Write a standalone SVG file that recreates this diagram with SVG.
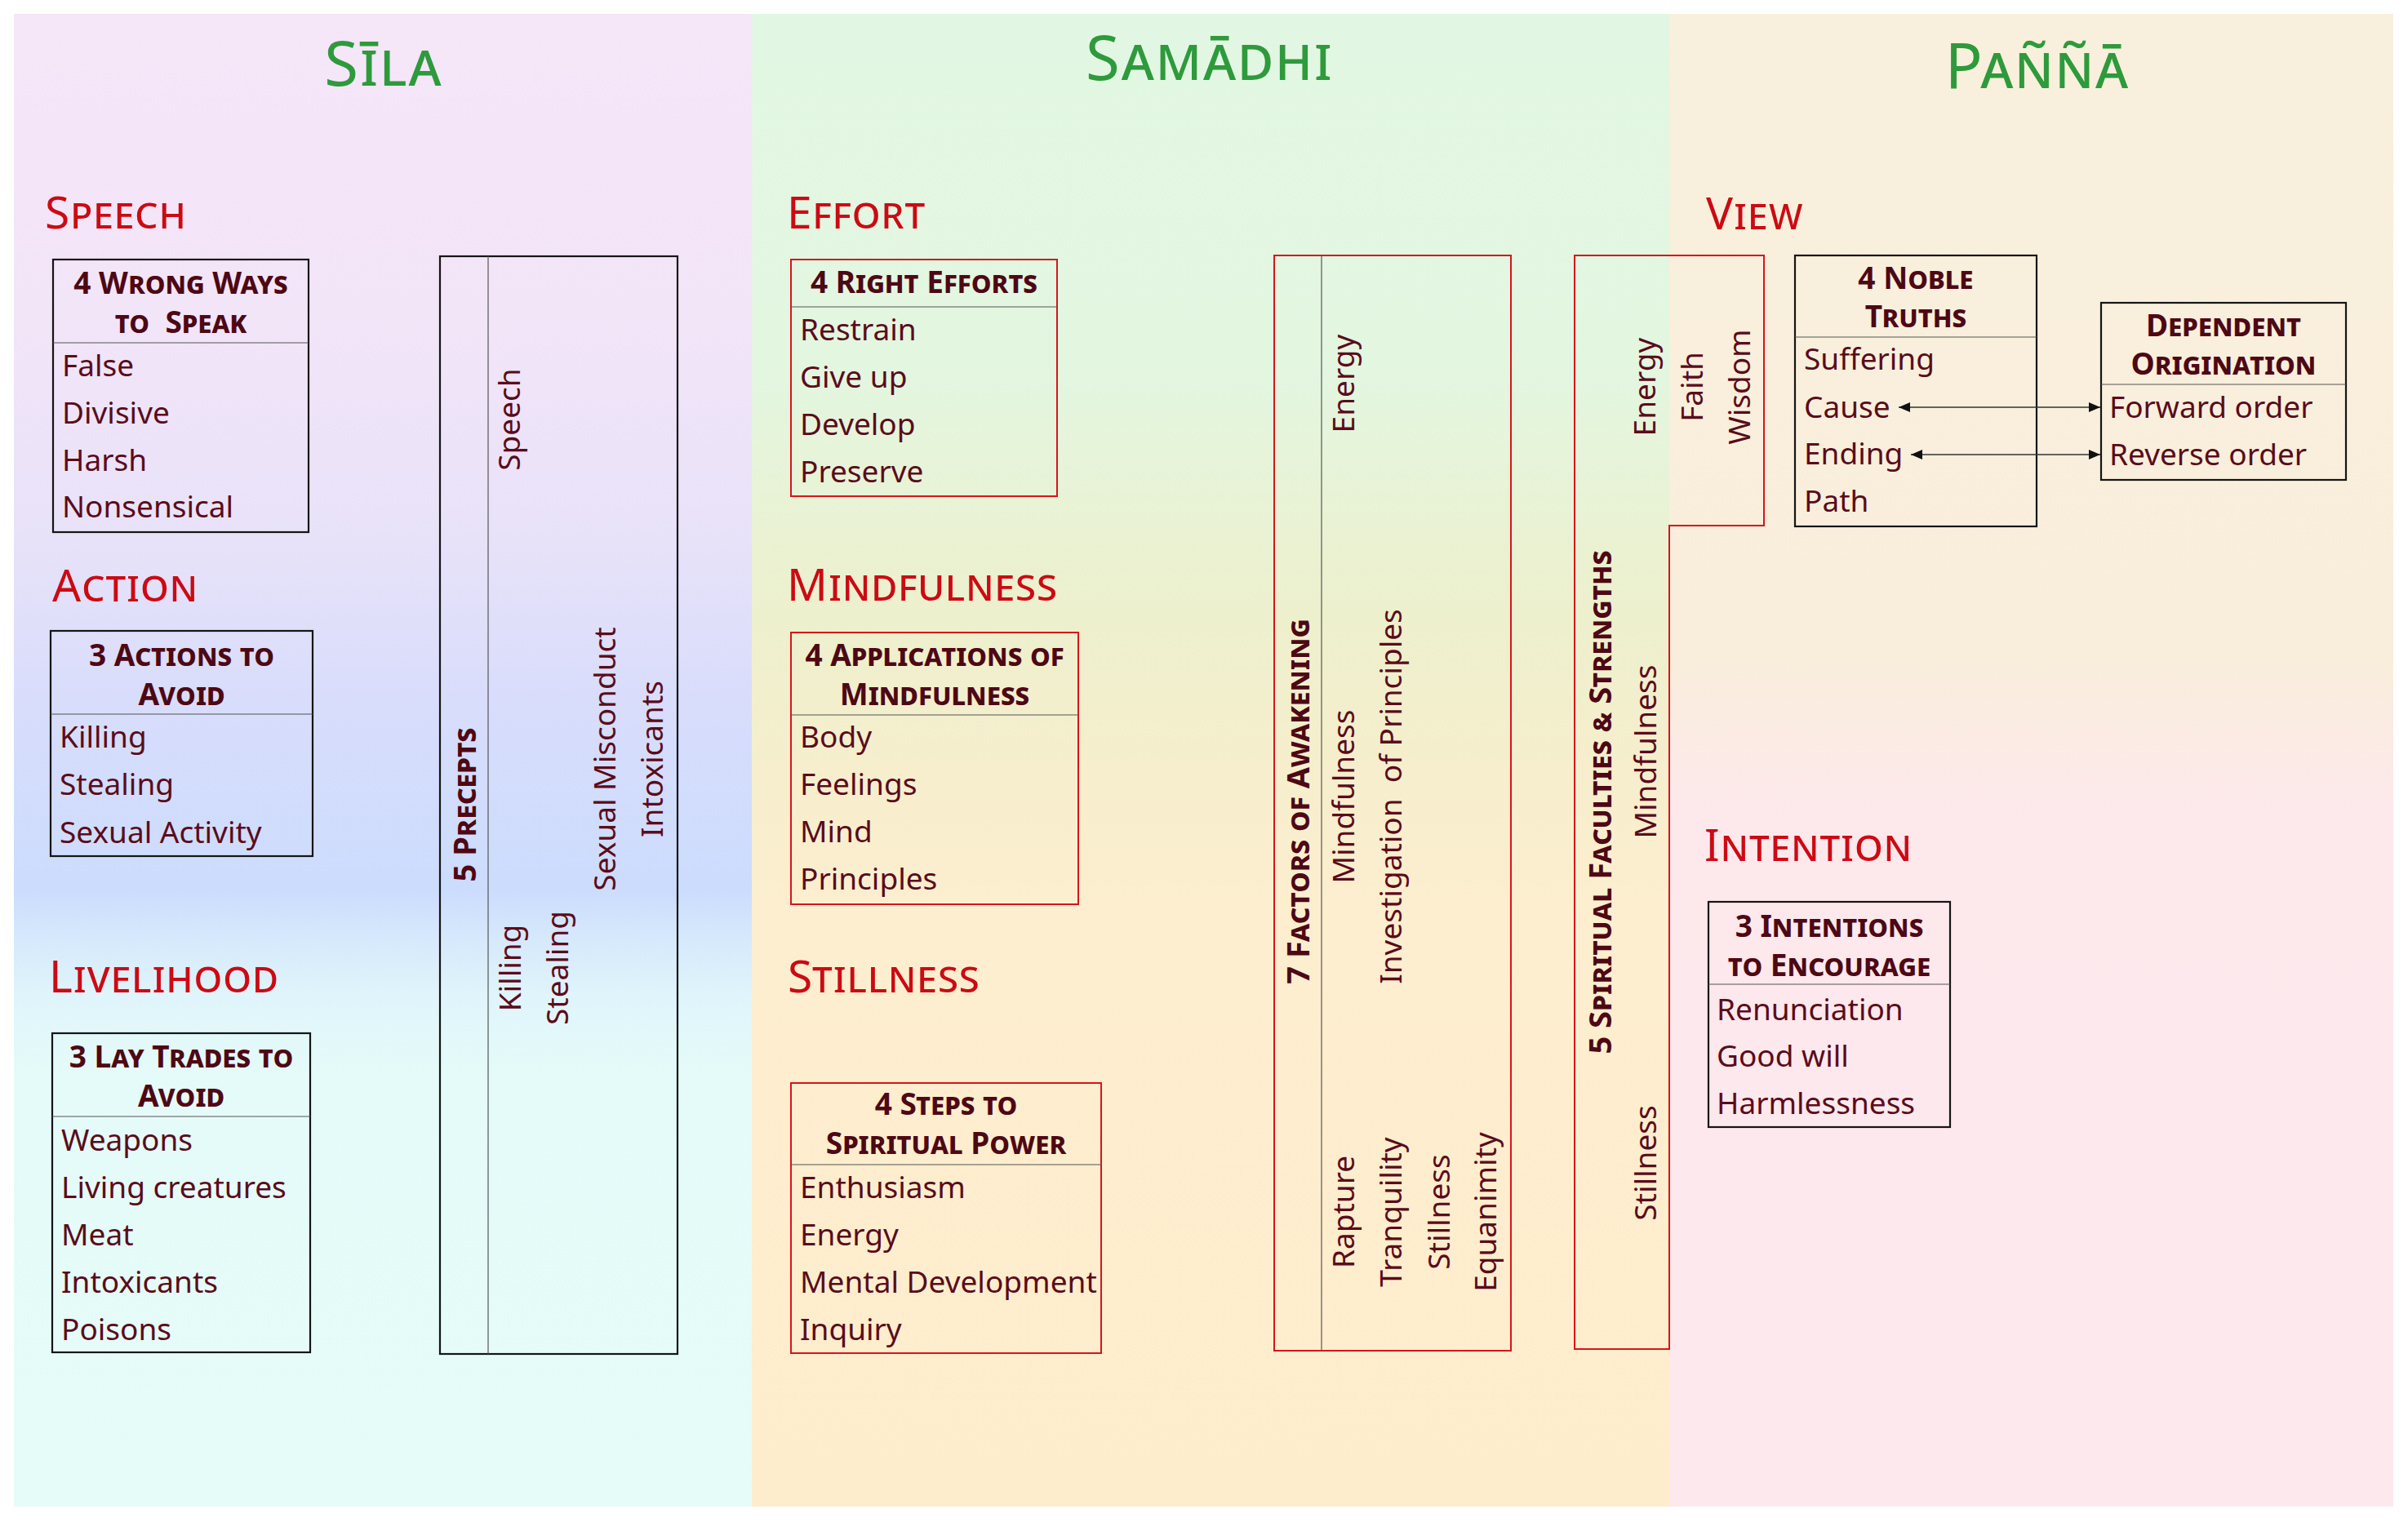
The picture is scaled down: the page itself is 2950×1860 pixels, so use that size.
<svg xmlns="http://www.w3.org/2000/svg" width="2950" height="1860" viewBox="0 0 2950 1860">
<style>
text{font-family:"Noto Sans","Open Sans",sans-serif;}
.title{font-size:76px;font-weight:400;fill:#2e9a3c;font-variant:small-caps;text-anchor:middle;letter-spacing:2px;}
.sec{font-size:55px;fill:#cc0a14;font-variant:small-caps;letter-spacing:1px;}
.hd{font-size:37px;font-weight:700;fill:#4e0814;font-variant:small-caps;text-anchor:middle;white-space:pre;}
.it{font-size:37px;fill:#5a0c1a;}
.rt{font-size:37px;fill:#5a0c1a;text-anchor:middle;white-space:pre;}
.rh{font-size:38px;font-weight:700;fill:#4e0814;font-variant:small-caps;text-anchor:middle;}
.bk{fill:none;stroke:#151515;stroke-width:2.2;}
.rd{fill:none;stroke:#d8141c;stroke-width:2;}
.sep{stroke:#555;stroke-width:1.2;}
.conn{stroke:#333;stroke-width:1.3;fill:none;}
</style>
<defs>
<linearGradient id="gSila" gradientUnits="userSpaceOnUse" x1="0" y1="17" x2="0" y2="1846">
<stop offset="0" stop-color="#f5e6f8"/>
<stop offset="0.2" stop-color="#f3e5f8"/>
<stop offset="0.35" stop-color="#e8e2f9"/>
<stop offset="0.454" stop-color="#d9ddfb"/>
<stop offset="0.587" stop-color="#ccdcfd"/>
<stop offset="0.618" stop-color="#d6e8fc"/>
<stop offset="0.66" stop-color="#e0f5fb"/>
<stop offset="0.71" stop-color="#e4fbf9"/>
<stop offset="1" stop-color="#e6fcf8"/>
</linearGradient>
<linearGradient id="gSam" gradientUnits="userSpaceOnUse" x1="0" y1="17" x2="0" y2="1846">
<stop offset="0" stop-color="#e2f7e3"/>
<stop offset="0.24" stop-color="#e3f6e0"/>
<stop offset="0.4" stop-color="#edf0cd"/>
<stop offset="0.505" stop-color="#f6eecd"/>
<stop offset="0.608" stop-color="#fdeecf"/>
<stop offset="1" stop-color="#feedcd"/>
</linearGradient>
<linearGradient id="gPan" gradientUnits="userSpaceOnUse" x1="0" y1="17" x2="0" y2="1846">
<stop offset="0" stop-color="#f8f0dc"/>
<stop offset="0.43" stop-color="#f9eedc"/>
<stop offset="0.54" stop-color="#fde8ec"/>
<stop offset="1" stop-color="#fde8ee"/>
</linearGradient>
<marker id="ah" viewBox="0 0 14 12" markerWidth="14" markerHeight="12" refX="14" refY="6" markerUnits="userSpaceOnUse" orient="auto-start-reverse">
<path d="M0,0 L14,6 L0,12 z" fill="#111"/>
</marker>
</defs>
<rect width="2950" height="1860" fill="#ffffff"/>
<g id="panels">
<rect x="17" y="17" width="904" height="1829" fill="url(#gSila)"/>
<rect x="921" y="17" width="1124" height="1829" fill="url(#gSam)"/>
<rect x="2045" y="17" width="887" height="1829" fill="url(#gPan)"/>
</g>
<g id="titles">
<text class="title" x="470" y="105">Sīla</text>
<text class="title" x="1482" y="98">Samādhi</text>
<text class="title" x="2496" y="108">Paññā</text>
</g>
<g id="sections">
<text class="sec" x="55" y="280">Speech</text>
<text class="sec" x="64" y="737">Action</text>
<text class="sec" x="60" y="1216">Livelihood</text>
<text class="sec" x="964" y="280">Effort</text>
<text class="sec" x="964" y="736">Mindfulness</text>
<text class="sec" x="965" y="1216">Stillness</text>
<text class="sec" x="2090" y="281">View</text>
<text class="sec" x="2088" y="1055">Intention</text>
</g>
<g id="wrong-ways">
<rect class="bk" x="65" y="318" width="313" height="334"/>
<line class="sep" x1="65" y1="420" x2="378" y2="420"/>
<text class="hd" x="221.5" y="360">4 Wrong Ways</text>
<text class="hd" x="221.5" y="408" xml:space="preserve">to  Speak</text>
<text class="it" x="76" y="461">False</text>
<text class="it" x="76" y="519">Divisive</text>
<text class="it" x="76" y="577">Harsh</text>
<text class="it" x="76" y="634">Nonsensical</text>
</g>
<g id="actions">
<rect class="bk" x="62" y="773" width="321" height="276"/>
<line class="sep" x1="62" y1="875" x2="383" y2="875"/>
<text class="hd" x="222.5" y="816">3 Actions to</text>
<text class="hd" x="222.5" y="864">Avoid</text>
<text class="it" x="73" y="916">Killing</text>
<text class="it" x="73" y="974">Stealing</text>
<text class="it" x="73" y="1033">Sexual Activity</text>
</g>
<g id="lay-trades">
<rect class="bk" x="64" y="1266" width="316" height="391"/>
<line class="sep" x1="64" y1="1368" x2="380" y2="1368"/>
<text class="hd" x="222" y="1308">3 Lay Trades to</text>
<text class="hd" x="222" y="1356">Avoid</text>
<text class="it" x="75" y="1410">Weapons</text>
<text class="it" x="75" y="1468">Living creatures</text>
<text class="it" x="75" y="1526">Meat</text>
<text class="it" x="75" y="1584">Intoxicants</text>
<text class="it" x="75" y="1642">Poisons</text>
</g>
<g id="precepts">
<rect class="bk" x="539" y="314" width="291" height="1345"/>
<line class="sep" x1="598" y1="314" x2="598" y2="1659"/>
<text class="rh" transform="translate(583,986) rotate(-90)">5 Precepts</text>
<text class="rt" transform="translate(637,514) rotate(-90)">Speech</text>
<text class="rt" transform="translate(638,1186) rotate(-90)">Killing</text>
<text class="rt" transform="translate(696,1186) rotate(-90)">Stealing</text>
<text class="rt" transform="translate(754,930) rotate(-90)">Sexual Misconduct</text>
<text class="rt" transform="translate(812,930) rotate(-90)">Intoxicants</text>
</g>
<g id="right-efforts">
<rect class="rd" x="969" y="318" width="326" height="290"/>
<line class="sep" x1="969" y1="376" x2="1295" y2="376"/>
<text class="hd" x="1132" y="359">4 Right Efforts</text>
<text class="it" x="980" y="417">Restrain</text>
<text class="it" x="980" y="475">Give up</text>
<text class="it" x="980" y="533">Develop</text>
<text class="it" x="980" y="591">Preserve</text>
</g>
<g id="applications">
<rect class="rd" x="969" y="775" width="352" height="333"/>
<line class="sep" x1="969" y1="876" x2="1321" y2="876"/>
<text class="hd" x="1145" y="816">4 Applications of</text>
<text class="hd" x="1145" y="864">Mindfulness</text>
<text class="it" x="980" y="916">Body</text>
<text class="it" x="980" y="974">Feelings</text>
<text class="it" x="980" y="1032">Mind</text>
<text class="it" x="980" y="1090">Principles</text>
</g>
<g id="spiritual-power">
<rect class="rd" x="969" y="1327" width="380" height="331"/>
<line class="sep" x1="969" y1="1427" x2="1349" y2="1427"/>
<text class="hd" x="1159" y="1366">4 Steps to</text>
<text class="hd" x="1159" y="1414">Spiritual Power</text>
<text class="it" x="980" y="1468">Enthusiasm</text>
<text class="it" x="980" y="1526">Energy</text>
<text class="it" x="980" y="1584">Mental Development</text>
<text class="it" x="980" y="1642">Inquiry</text>
</g>
<g id="awakening">
<rect class="rd" x="1561" y="313" width="290" height="1342"/>
<line class="sep" x1="1619" y1="313" x2="1619" y2="1655"/>
<text class="rh" transform="translate(1604,982) rotate(-90)">7 Factors of Awakening</text>
<text class="rt" transform="translate(1659,470) rotate(-90)">Energy</text>
<text class="rt" transform="translate(1659,976) rotate(-90)">Mindfulness</text>
<text class="rt" transform="translate(1717,976) rotate(-90)" xml:space="preserve">Investigation  of Principles</text>
<text class="rt" transform="translate(1659,1485) rotate(-90)">Rapture</text>
<text class="rt" transform="translate(1717,1485) rotate(-90)">Tranquility</text>
<text class="rt" transform="translate(1776,1485) rotate(-90)">Stillness</text>
<text class="rt" transform="translate(1833,1485) rotate(-90)">Equanimity</text>
</g>
<g id="faculties">
<path class="rd" d="M1929,313 L2161,313 L2161,644 L2045,644 L2045,1653 L1929,1653 Z"/>
<text class="rh" transform="translate(1974,983) rotate(-90)">5 Spiritual Faculties &amp; Strengths</text>
<text class="rt" transform="translate(2028,474) rotate(-90)">Energy</text>
<text class="rt" transform="translate(2086,474) rotate(-90)">Faith</text>
<text class="rt" transform="translate(2144,474) rotate(-90)">Wisdom</text>
<text class="rt" transform="translate(2029,921) rotate(-90)">Mindfulness</text>
<text class="rt" transform="translate(2029,1425) rotate(-90)">Stillness</text>
</g>
<g id="noble-truths">
<rect class="bk" x="2199" y="313" width="296" height="332"/>
<line class="sep" x1="2199" y1="413" x2="2495" y2="413"/>
<text class="hd" x="2347" y="354">4 Noble</text>
<text class="hd" x="2347" y="401">Truths</text>
<text class="it" x="2210" y="453">Suffering</text>
<text class="it" x="2210" y="512">Cause</text>
<text class="it" x="2210" y="569">Ending</text>
<text class="it" x="2210" y="627">Path</text>
</g>
<g id="dependent-origination">
<rect class="bk" x="2574" y="371" width="300" height="217"/>
<line class="sep" x1="2574" y1="471" x2="2874" y2="471"/>
<text class="hd" x="2724" y="412">Dependent</text>
<text class="hd" x="2724" y="459">Origination</text>
<text class="it" x="2584" y="512">Forward order</text>
<text class="it" x="2584" y="570">Reverse order</text>
</g>
<g id="intentions">
<rect class="bk" x="2093" y="1105" width="296" height="276"/>
<line class="sep" x1="2093" y1="1206" x2="2389" y2="1206"/>
<text class="hd" x="2241" y="1148">3 Intentions</text>
<text class="hd" x="2241" y="1196">to Encourage</text>
<text class="it" x="2103" y="1250">Renunciation</text>
<text class="it" x="2103" y="1307">Good will</text>
<text class="it" x="2103" y="1365">Harmlessness</text>
</g>
<g id="connectors">
<line class="conn" x1="2326" y1="499" x2="2573" y2="499" marker-start="url(#ah)" marker-end="url(#ah)"/>
<line class="conn" x1="2341" y1="557" x2="2573" y2="557" marker-start="url(#ah)" marker-end="url(#ah)"/>
</g>
</svg>
